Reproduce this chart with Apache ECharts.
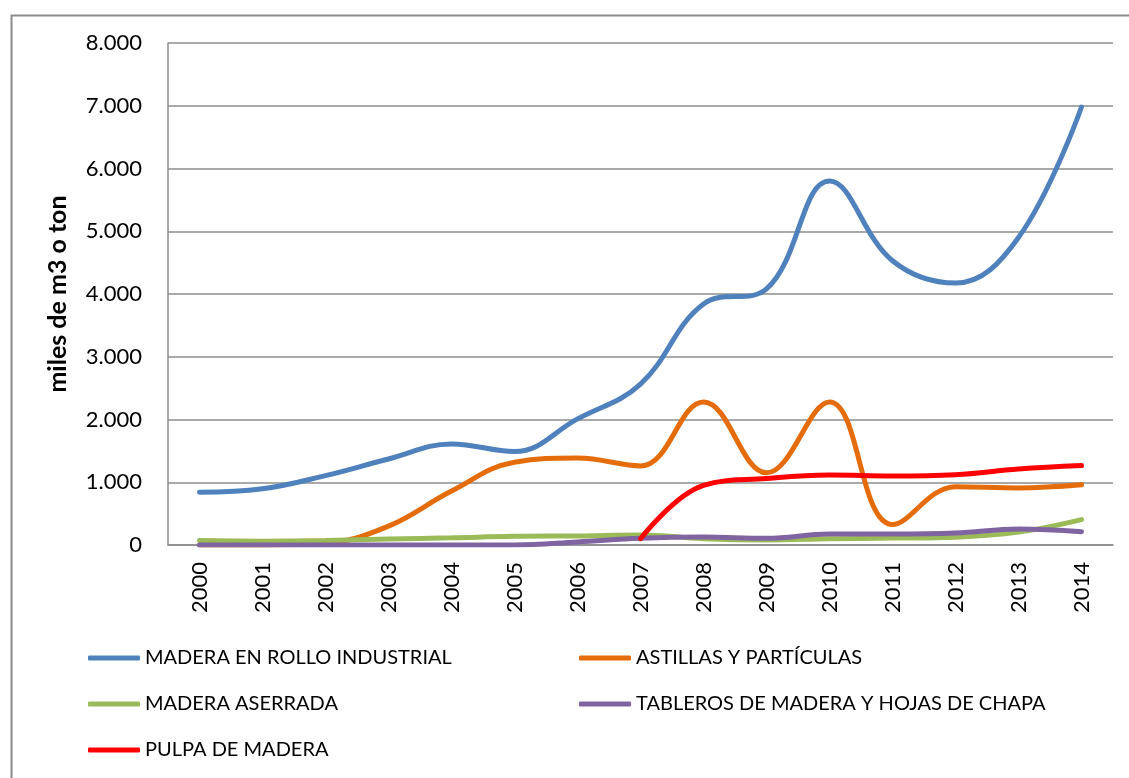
<!DOCTYPE html>
<html>
<head>
<meta charset="utf-8">
<script src="https://cdn.jsdelivr.net/npm/echarts@6/dist/echarts.min.js"></script>
<style>
  html, body { margin: 0; padding: 0; background: #fff; }
  #chart { width: 1129px; height: 778px; }
</style>
</head>
<body>
<div id="chart"></div>
<script>
// datos (miles de m3 o ton)
const years = ['2000', '2001', '2002', '2003', '2004', '2005', '2006', '2007',
  '2008', '2009', '2010', '2011', '2012', '2013', '2014']
const maderaRollo = [840, 895, 1105, 1370, 1610, 1490, 2010, 2565, 3840, 4080, 5800, 4530, 4175, 4900, 6980]
const astillas = [0, 0, 30, 300, 860, 1320, 1385, 1260, 2280, 1150, 2280, 325, 930, 910, 960]
const maderaAserrada = [70, 60, 70, 95, 115, 138, 145, 160, 100, 80, 100, 110, 125, 205, 405]
const tableros = [0, 0, 0, 0, 0, 0, 48, 107, 127, 107, 175, 175, 190, 255, 212]
const pulpa = ['-', '-', '-', '-', '-', '-', '-', 100, 950, 1060, 1115, 1100, 1120, 1210, 1265]
const yTickLabels = ['0', '1.000', '2.000', '3.000', '4.000', '5.000', '6.000', '7.000', '8.000']

const names = [
  'MADERA EN ROLLO INDUSTRIAL',
  'ASTILLAS Y PARTÍCULAS',
  'MADERA ASERRADA',
  'TABLEROS DE MADERA Y HOJAS DE CHAPA',
  'PULPA DE MADERA'
]
const colors = ['#4f81bd', '#e46c0a', '#9bbb59', '#8064a2', '#ff0000']
const values = [maderaRollo, astillas, maderaAserrada, tableros, pulpa]

const font = 'Lato'
const chart = echarts.init(document.getElementById('chart'))

const legendBase = {
  orient: 'vertical',
  top: 647,
  padding: 0,
  itemGap: 24,
  itemWidth: 52,
  itemHeight: 5,
  icon: 'roundRect',
  textStyle: { fontFamily: font, fontSize: 20, color: '#000', lineHeight: 22 }
}

const option = {
  backgroundColor: '#fff',
  animation: false,
  graphic: [{
    type: 'rect',
    left: 9,
    top: 13,
    shape: { width: 1200, height: 800 },
    style: { fill: 'none', stroke: '#8c8c8c', lineWidth: 2 }
  }],
  legend: [
    Object.assign({}, legendBase, { left: 88, data: [names[0], names[2], names[4]] }),
    Object.assign({}, legendBase, { left: 579, data: [names[1], names[3]] })
  ],
  grid: {
    left: 168,
    right: 16,
    top: 43,
    bottom: 233
  },
  xAxis: {
    type: 'category',
    data: years,
    boundaryGap: true,
    axisLine: { lineStyle: { color: '#8c8c8c', width: 1.5 } },
    axisTick: { show: false },
    axisLabel: {
      rotate: 90,
      margin: 17,
      fontFamily: font,
      fontSize: 22,
      color: '#000'
    }
  },
  yAxis: {
    type: 'value',
    min: 0,
    max: 8000,
    interval: 1000,
    name: 'miles de m3 o ton',
    nameLocation: 'middle',
    nameRotate: 90,
    nameGap: 98,
    nameTextStyle: { fontFamily: font, fontSize: 25, fontWeight: 'bold', color: '#000' },
    axisLine: { show: true, lineStyle: { color: '#8c8c8c', width: 1.5 } },
    axisTick: { show: false },
    splitLine: { lineStyle: { color: '#8c8c8c', width: 1.5 } },
    axisLabel: {
      margin: 26,
      fontFamily: font,
      fontSize: 22,
      color: '#000',
      formatter: v => yTickLabels[Math.round(v / 1000)]
    }
  },
  series: names.map((n, i) => ({
    name: n,
    type: 'line',
    data: values[i],
    smooth: 0.4,
    symbol: 'none',
    showSymbol: false,
    lineStyle: { color: colors[i], width: 5, cap: 'round' },
    itemStyle: { color: colors[i] }
  }))
}

chart.setOption(option)
</script>
</body>
</html>
